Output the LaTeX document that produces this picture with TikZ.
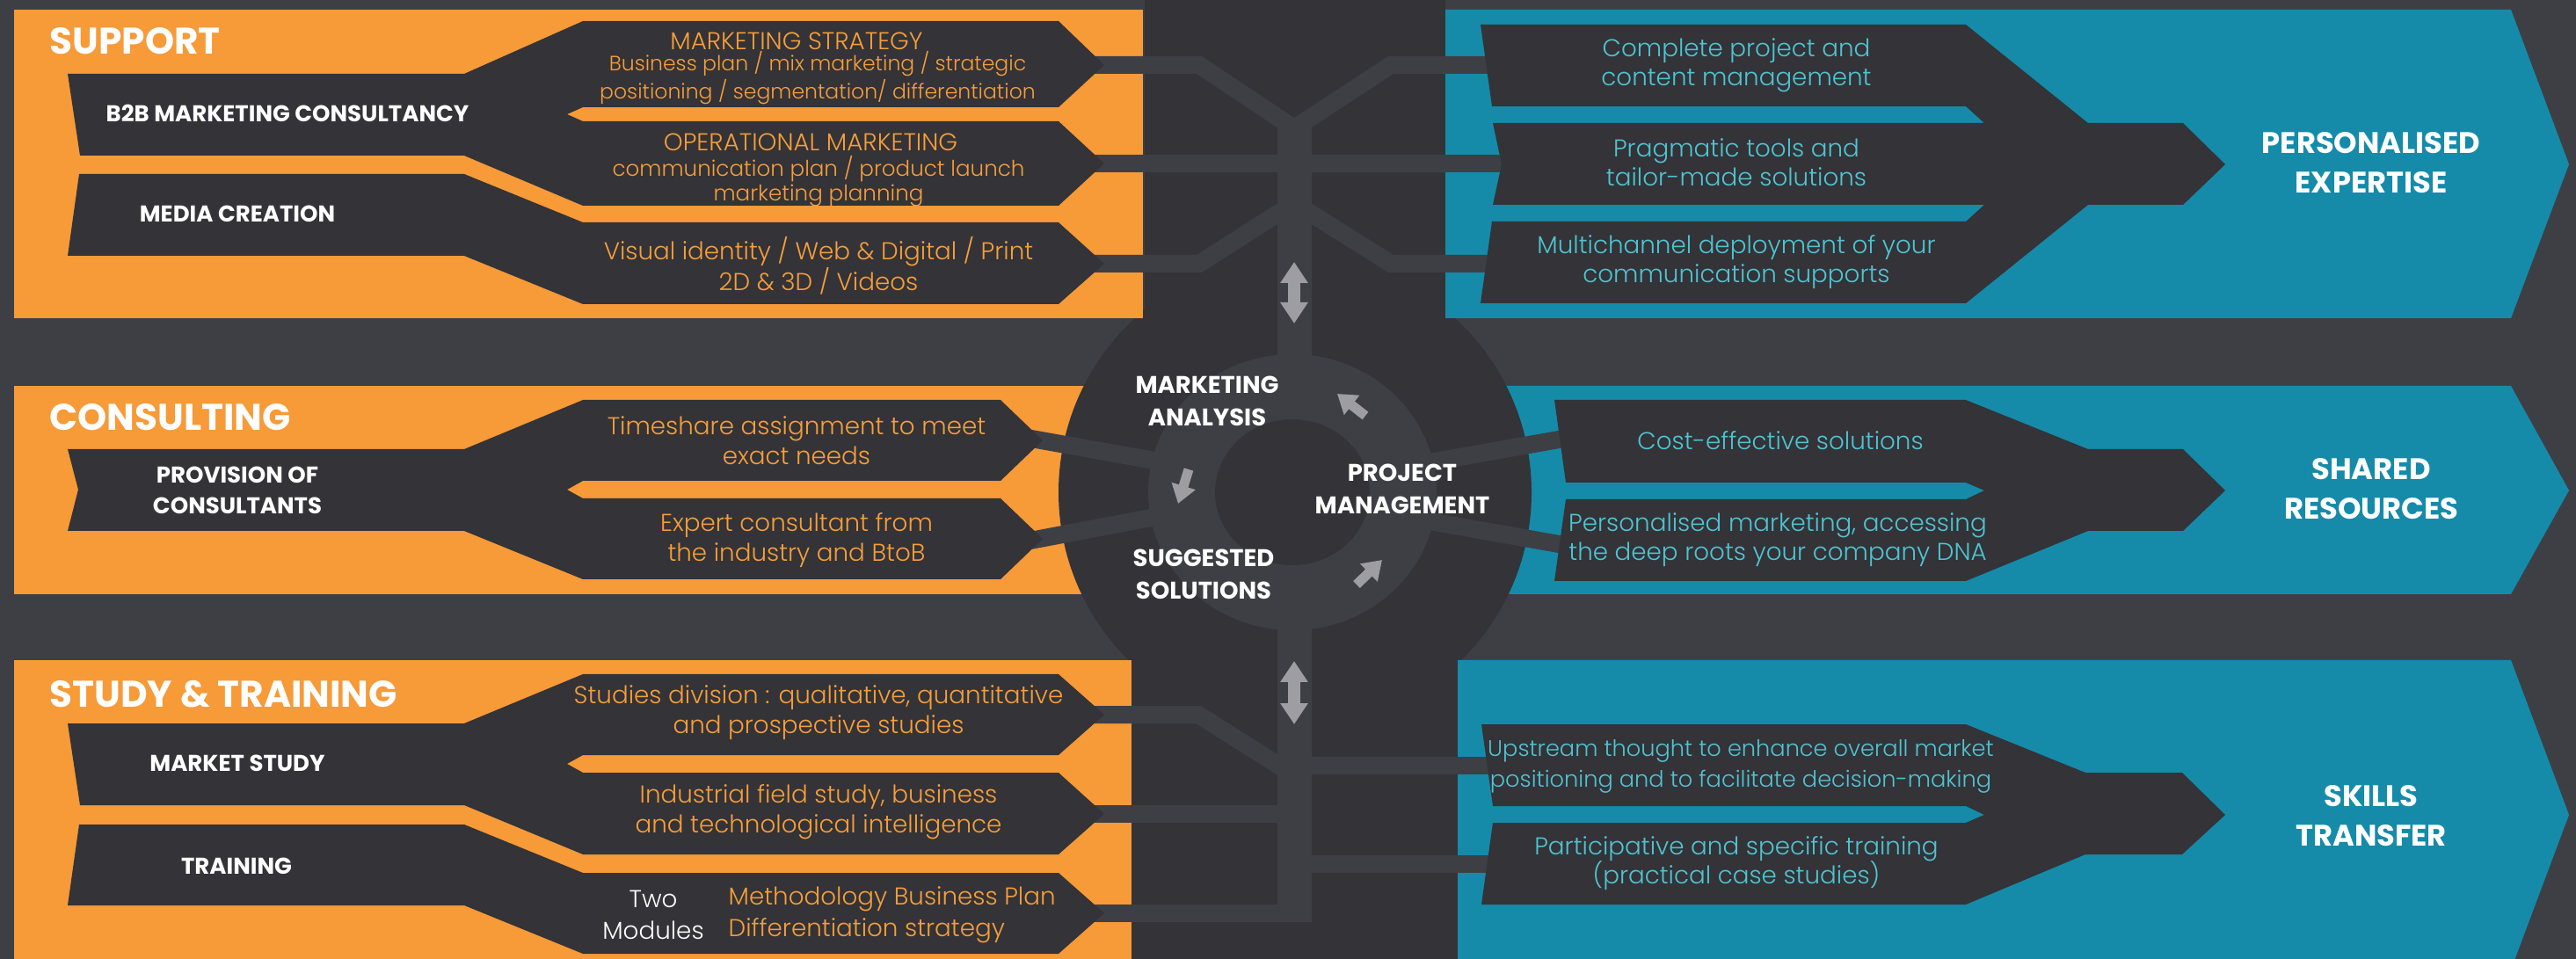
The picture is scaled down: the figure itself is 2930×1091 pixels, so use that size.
\documentclass[tikz,border=0pt]{standalone}
\usepackage{fontspec}
\setmainfont{Poppins}
\newfontfamily\lightfont{Poppins Light}
\usepackage{xcolor}
\usepackage{tikz}
\usetikzlibrary{arrows.meta}
\definecolor{bgc}{RGB}{62,63,69}
\definecolor{dark}{RGB}{51,51,56}
\definecolor{amber}{RGB}{247,154,56}
\definecolor{sea}{RGB}{21,139,169}
\definecolor{ambertext}{RGB}{246,158,58}
\definecolor{seatext}{RGB}{79,196,209}
\definecolor{arrowgray}{RGB}{158,157,162}

\begin{document}
\begin{tikzpicture}[
    x=0.1mm, y=-0.1mm,
    heading/.style={anchor=west, inner sep=0, text=white, font=\bfseries\fontsize{12}{14}\selectfont},
    tag/.style={inner sep=0, align=center, text=white, font=\bfseries\fontsize{7.4}{10}\selectfont},
    big/.style={inner sep=0, align=center, text=white, font=\bfseries\fontsize{9.6}{12.9}\selectfont},
    hub/.style={inner sep=0, align=center, text=white, font=\bfseries\fontsize{7.8}{10.5}\selectfont},
    otxt/.style={inner sep=0, align=center, text=ambertext, font=\lightfont\fontsize{7.9}{9.7}\selectfont},
    ttxt/.style={inner sep=0, align=center, text=seatext, font=\lightfont\fontsize{7.9}{9.5}\selectfont},
    band/.style={draw=bgc, line width=2mm},
    trunk/.style={draw=bgc, line width=3.9mm},
    dbl/.style={draw=arrowgray, line width=1.4mm, {Triangle[width=3mm,length=2.4mm]}-{Triangle[width=3mm,length=2.4mm]}},
    cyc/.style={draw=arrowgray, line width=1.1mm, -{Triangle[width=2.7mm,length=2.1mm]}},
]
    \useasboundingbox (0,0) rectangle (2930,1091);
    \fill[bgc] (0,0) rectangle (2930,1091);

    \coordinate (sA) at (1226,74);
    \coordinate (sB) at (1226,186);
    \coordinate (sC) at (1226,300);
    \coordinate (sG) at (1156,496);
    \coordinate (sH) at (1156,618);
    \coordinate (sD) at (1226,813);
    \coordinate (sE) at (1226,926);
    \coordinate (sF) at (1226,1039);
    \coordinate (pA) at (1720,74);
    \coordinate (pB) at (1720,186);
    \coordinate (pC) at (1720,300);
    \coordinate (pG) at (1790,497);
    \coordinate (pH) at (1790,622);
    \coordinate (pD) at (1720,871);
    \coordinate (pE) at (1720,983);
    \coordinate (jT1) at (1472,146);
    \coordinate (jT2) at (1472,231);
    \coordinate (rT) at (1472,420);
    \coordinate (rB) at (1472,700);
    \coordinate (jB1) at (1472,871);
    \coordinate (jB2) at (1472,926);
    \coordinate (jB3) at (1472,983);
    \coordinate (jB) at (1472,1049);
    \coordinate (rL1) at (1330,527);
    \coordinate (rL2) at (1330,585);
    \coordinate (rR1) at (1615,528);
    \coordinate (rR2) at (1615,591);

    \fill[dark] (1302,0) rectangle (1644,560);
    \fill[dark] (1287,560) rectangle (1658,1091);

    \fill[amber] (16,439) rectangle (1300,676);
    \fill[sea] (1644,439) -- (2856,439) -- (2922,558) -- (2856,676) -- (1644,676) -- cycle;
    \fill[dark] (1473,560) circle[radius=269];

    \fill[amber] (16,11) rectangle (1300,362);
    \fill[sea] (1644,11) -- (2856,11) -- (2922,187) -- (2856,362) -- (1644,362) -- cycle;
    \fill[amber] (16,751) rectangle (1287,1100);
    \fill[sea] (1658,751) -- (2856,751) -- (2922,927) -- (2856,1103) -- (1658,1103) -- cycle;

    \fill[bgc] (1470,560) ellipse[x radius=164, y radius=157];
    \fill[dark] (1470,560) ellipse[x radius=88, y radius=83];

    \draw[trunk] (1472,140) -- (rT);
    \draw[band] (sA) -- (1364,74) -- (jT1) -- (1582,74) -- (pA);
    \draw[band] (sB) -- (pB);
    \draw[band] (sC) -- (1364,300) -- (jT2) -- (1582,300) -- (pC);
    \draw[band] (sG) -- (rL1);
    \draw[band] (sH) -- (rL2);
    \draw[band] (rR1) -- (pG);
    \draw[band] (rR2) -- (pH);
    \draw[trunk] (rB) -- (jB);
    \draw[band] (sD) -- (1363,813) -- (1472,882);
    \draw[band] (jB1) -- (pD);
    \draw[band] (sE) -- (jB2);
    \draw[band] (jB3) -- (pE);
    \draw[band] (sF) -- (1472,1039);

    \draw[dbl] (1472,298) -- (1472,368);
    \draw[dbl] (1472,752) -- (1472,824);
    \draw[cyc] (1553,473) -- (1521,448);
    \draw[cyc] (1352,534) -- (1340,573);
    \draw[cyc] (1543,665) -- (1572,637);

    \fill[dark] (77,84) -- (528,84) -- (663,24) -- (1204,24) -- (1256,74) -- (1204,122) -- (663,122) -- (645,130) -- (663,138) -- (1204,138) -- (1256,186) -- (1204,234) -- (663,234) -- (528,177) -- (91,177) -- cycle;
    \fill[dark] (90,198) -- (528,198) -- (663,253) -- (1204,253) -- (1256,300) -- (1204,346) -- (663,346) -- (528,291) -- (77,291) -- cycle;
    \fill[dark] (77,511) -- (528,511) -- (663,455) -- (1138,455) -- (1186,501) -- (1138,547) -- (663,547) -- (645,557) -- (663,567) -- (1138,567) -- (1186,613) -- (1138,659) -- (663,659) -- (528,604) -- (77,604) -- (89,557) -- cycle;
    \fill[dark] (77,823) -- (528,823) -- (663,767) -- (1204,767) -- (1256,813) -- (1204,859) -- (663,859) -- (645,869) -- (663,879) -- (1204,879) -- (1256,926) -- (1204,972) -- (663,972) -- (528,916) -- (91,916) -- cycle;
    \fill[dark] (90,938) -- (528,938) -- (663,993) -- (1204,993) -- (1256,1039) -- (1204,1085) -- (663,1085) -- (528,1030) -- (77,1030) -- cycle;

    \fill[dark] (1684,28) -- (2236,28) -- (2375,140) -- (2483,140) -- (2531,187) -- (2483,233) -- (2375,233) -- (2236,345) -- (1684,345) -- (1697,252) -- (2236,252) -- (2257,233) -- (1698,233) -- (1708,187) -- (1698,140) -- (2257,140) -- (2236,121) -- (1697,121) -- cycle;
    \fill[dark] (1768,455) -- (2236,455) -- (2375,511) -- (2483,511) -- (2531,558) -- (2483,604) -- (2375,604) -- (2236,661) -- (1768,661) -- (1781,568) -- (2236,568) -- (2257,558) -- (2236,549) -- (1781,549) -- cycle;
    \fill[dark] (1685,824) -- (2236,824) -- (2372,879) -- (2482,879) -- (2531,927) -- (2482,972) -- (2372,972) -- (2236,1029) -- (1685,1029) -- (1698,936) -- (2236,936) -- (2257,927) -- (2236,917) -- (1698,917) -- cycle;

    \node[heading] (support) at (56,47) {SUPPORT};
    \node[heading] (consulting) at (56,475) {CONSULTING};
    \node[heading] (study) at (56,790) {STUDY \& TRAINING};

    \node[tag] (b2b) at (327,129) {B2B MARKETING CONSULTANCY};
    \node[tag] (media) at (270,243) {MEDIA CREATION};
    \node[tag] (provision) at (270,558) {PROVISION OF\\CONSULTANTS};
    \node[tag] (market) at (270,868) {MARKET STUDY};
    \node[tag] (training) at (269,985) {TRAINING};

    \node[otxt] (stratT) at (906,47) {MARKETING STRATEGY};
    \node[otxt, font=\lightfont\fontsize{6.7}{7.1}\selectfont] (stratB) at (930,89) {Business plan / mix marketing / strategic\\positioning / segmentation/ differentiation};
    \node[otxt] (operT) at (922,162) {OPERATIONAL MARKETING};
    \node[otxt, font=\lightfont\fontsize{7}{8}\selectfont] (operB) at (931,206) {communication plan / product launch\\marketing planning};
    \node[otxt, font=\lightfont\fontsize{7.9}{10}\selectfont] (visual) at (931,302) {Visual identity / Web \& Digital / Print\\2D \& 3D / Videos};
    \node[otxt] (timeshare) at (906,501) {Timeshare assignment to meet\\exact needs};
    \node[otxt] (expert) at (906,615) {Expert consultant from\\the industry and BtoB};
    \node[otxt] (studies) at (931,811) {Studies division : qualitative, quantitative\\and prospective studies};
    \node[otxt] (field) at (931,924) {Industrial field study, business\\and technological intelligence};
    \node[otxt, text=white, font=\lightfont\fontsize{7.9}{10.2}\selectfont] (two) at (743,1041) {Two\\Modules};
    \node[otxt, align=left, anchor=west, font=\lightfont\fontsize{7.9}{10.2}\selectfont] (modules) at (828,1041) {Methodology Business Plan\\Differentiation strategy};

    \node[ttxt] (complete) at (1975,74) {Complete project and\\content management};
    \node[ttxt] (pragmatic) at (1975,185) {Pragmatic tools and\\tailor-made solutions};
    \node[ttxt] (multi) at (1975,298) {Multichannel deployment of your\\communication supports};
    \node[ttxt] (cost) at (2025,501) {Cost-effective solutions};
    \node[ttxt] (personal) at (2022,614) {Personalised marketing, accessing\\the deep roots your company DNA};
    \node[ttxt, font=\lightfont\fontsize{7.3}{10}\selectfont] (upstream) at (1980,872) {Upstream thought to enhance overall market\\positioning and to facilitate decision-making};
    \node[ttxt] (particip) at (1975,982) {Participative and specific training\\(practical case studies)};

    \node[big] (expertise) at (2697,185) {PERSONALISED\\EXPERTISE};
    \node[big] (shared) at (2697,556) {SHARED\\RESOURCES};
    \node[big] (skills) at (2697,928) {SKILLS\\TRANSFER};

    \node[hub] (analysis) at (1373,456) {MARKETING\\ANALYSIS};
    \node[hub] (project) at (1595,556) {PROJECT\\MANAGEMENT};
    \node[hub] (solutions) at (1369,653) {SUGGESTED\\SOLUTIONS};
\end{tikzpicture}
\end{document}
